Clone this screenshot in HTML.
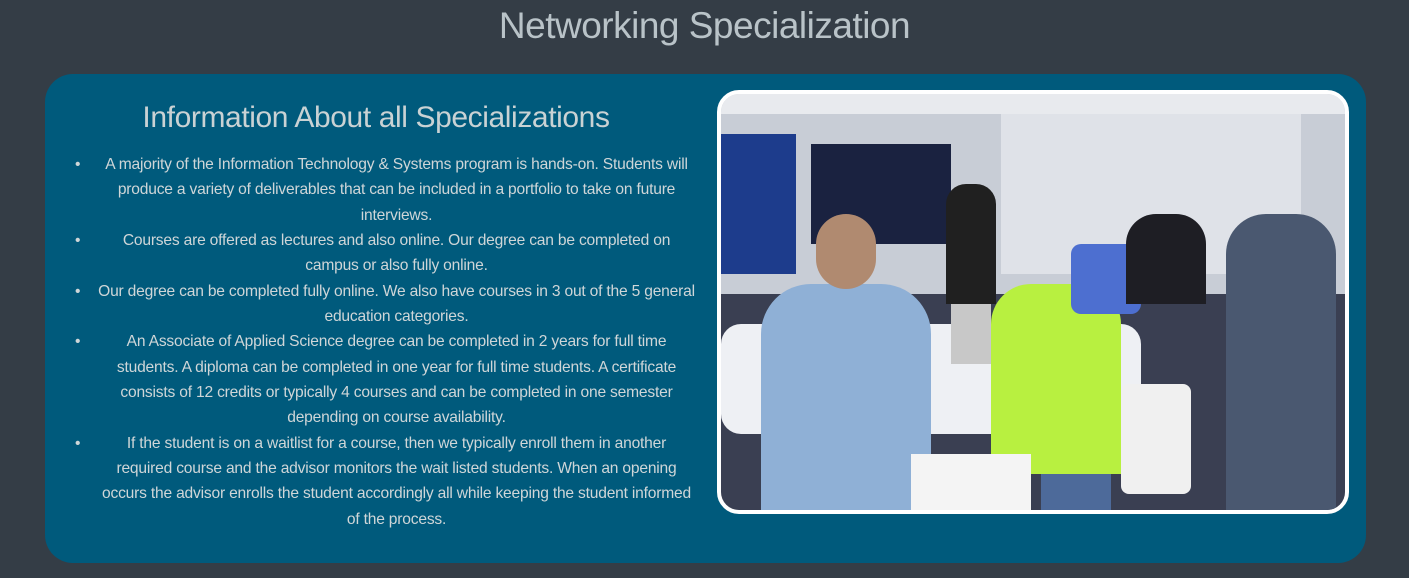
<!DOCTYPE html>
<html><head><meta charset="utf-8"><style>
html,body{margin:0;padding:0;}
body{width:1409px;height:578px;background:#343d46;position:relative;overflow:hidden;font-family:"Liberation Sans",sans-serif;color:#cfd6d8;}
h1{position:absolute;left:0;top:5px;width:1409px;text-align:center;margin:0;font-weight:normal;font-size:37px;color:#b9c3c8;letter-spacing:-0.5px;}
.panel{position:absolute;left:45px;top:74px;width:1321px;height:489px;background:#005a7c;border-radius:28px;}
h2{position:absolute;left:45px;top:101px;width:662px;text-align:center;margin:0;font-weight:normal;font-size:30px;color:#c9d2d4;letter-spacing:-0.4px;}
ul{position:absolute;left:74px;top:152px;width:625px;margin:0;padding:0;list-style:none;}
li{position:relative;text-align:center;font-size:15.6px;line-height:25.35px;padding-left:20px;letter-spacing:-0.2px;white-space:nowrap;}
li:before{content:"•";position:absolute;left:1px;top:0;}
.photo{position:absolute;left:717px;top:90px;width:624px;height:416px;border:4px solid #fff;border-radius:22px;overflow:hidden;background:#c8cdd6;}
.photo div{position:absolute;}
</style></head><body>
<h1>Networking Specialization</h1>
<div class="panel"></div>
<h2>Information About all Specializations</h2>
<ul>
<li>A majority of the Information Technology &amp; Systems program is hands-on. Students will<br>produce a variety of deliverables that can be included in a portfolio to take on future<br>interviews.</li>
<li>Courses are offered as lectures and also online. Our degree can be completed on<br>campus or also fully online.</li>
<li>Our degree can be completed fully online. We also have courses in 3 out of the 5 general<br>education categories.</li>
<li>An Associate of Applied Science degree can be completed in 2 years for full time<br>students. A diploma can be completed in one year for full time students. A certificate<br>consists of 12 credits or typically 4 courses and can be completed in one semester<br>depending on course availability.</li>
<li>If the student is on a waitlist for a course, then we typically enroll them in another<br>required course and the advisor monitors the wait listed students. When an opening<br>occurs the advisor enrolls the student accordingly all while keeping the student informed<br>of the process.</li>
</ul>
<div class="photo">
<div style="left:0;top:0;width:624px;height:20px;background:#e8eaee"></div>
<div style="left:280px;top:20px;width:300px;height:160px;background:#dfe2e8"></div>
<div style="left:0;top:40px;width:75px;height:140px;background:#1d3c8c"></div>
<div style="left:90px;top:50px;width:140px;height:100px;background:#1a2240"></div>
<div style="left:0;top:200px;width:624px;height:216px;background:#3a3f52"></div>
<div style="left:0;top:230px;width:420px;height:110px;background:#eef0f4;border-radius:20px"></div>
<div style="left:40px;top:190px;width:170px;height:226px;background:#8fb0d6;border-radius:50px 50px 0 0"></div>
<div style="left:95px;top:120px;width:60px;height:75px;background:#b08a70;border-radius:30px"></div>
<div style="left:270px;top:190px;width:130px;height:190px;background:#b8f040;border-radius:40px 40px 0 0"></div>
<div style="left:320px;top:380px;width:70px;height:36px;background:#4d6a9a"></div>
<div style="left:225px;top:90px;width:50px;height:120px;background:#202020;border-radius:20px 20px 0 0"></div>
<div style="left:230px;top:210px;width:40px;height:60px;background:#c8c8c8"></div>
<div style="left:350px;top:150px;width:70px;height:70px;background:#4d6fd0;border-radius:10px"></div>
<div style="left:405px;top:120px;width:80px;height:90px;background:#1e1e24;border-radius:30px 30px 0 0"></div>
<div style="left:505px;top:120px;width:110px;height:296px;background:#4a5870;border-radius:40px 40px 0 0"></div>
<div style="left:190px;top:360px;width:120px;height:56px;background:#f4f4f4"></div>
<div style="left:400px;top:290px;width:70px;height:110px;background:#f0f0f0;border-radius:8px"></div>
</div>
</body></html>
